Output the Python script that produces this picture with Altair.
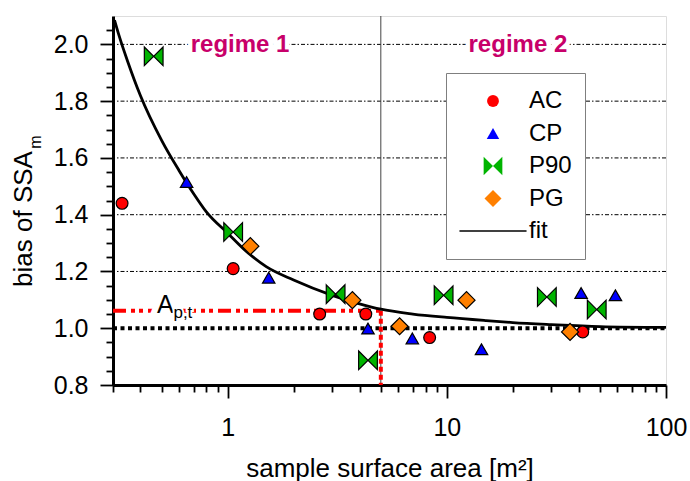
import altair as alt
import pandas as pd

FONT = "Liberation Sans"

# ---------------- data ----------------
ac_x = [0.33, 1.06, 2.63, 4.27, 8.35, 41.7]
ac_y = [1.44, 1.21, 1.05, 1.05, 0.967, 0.987]
cp_x = [0.65, 1.54, 4.37, 6.96, 14.4, 41.0, 58.8]
cp_y = [1.515, 1.178, 0.999, 0.964, 0.926, 1.124, 1.116]
p90_x = [0.46, 1.06, 3.11, 4.37, 9.67, 28.6, 48.3]
p90_y = [1.958, 1.339, 1.12, 0.887, 1.116, 1.11, 1.066]
pg_x = [1.27, 3.71, 6.09, 12.3, 36.5]
pg_y = [1.289, 1.099, 1.007, 1.099, 0.987]

fit_x = [0.305, 0.32, 0.35, 0.4, 0.5, 0.6, 0.7, 0.8, 1.0, 1.2, 1.5, 2, 3, 4, 5, 7, 10, 15, 20, 30, 50, 100]
fit_y = [2.085, 2.03, 1.94, 1.82, 1.662, 1.556, 1.474, 1.41, 1.335, 1.275, 1.217, 1.17, 1.116, 1.086, 1.067, 1.05, 1.038, 1.027, 1.02, 1.013, 1.006, 1.003]

grid_y = [1.2, 1.4, 1.6, 1.8, 2.0]
x_major = [1, 10, 100]
x_minor = [0.3, 0.4, 0.5, 0.6, 0.7, 0.8, 0.9, 2, 3, 4, 5, 6, 7, 8, 9,
           20, 30, 40, 50, 60, 70, 80, 90]
y_major = [0.8, 1.0, 1.2, 1.4, 1.6, 1.8, 2.0]
y_minor = [0.85, 0.9, 0.95, 1.05, 1.1, 1.15, 1.25, 1.3, 1.35, 1.45, 1.5, 1.55,
           1.65, 1.7, 1.75, 1.85, 1.9, 1.95, 2.05]

regime_boundary = 5.0
apt_x = 5.0
apt_y = 1.062
ref_y = 1.0
x_min, x_max = 0.3, 100
y_min, y_max = 0.8, 2.1

reg_x = [1.14, 21.1]
reg_y = [1.972, 1.972]
reg_text = ["regime 1", "regime 2"]

apt_label_x = [0.476]
apt_label_y = [1.053]
apt_sub_x = [0.566]
apt_sub_y = [1.035]

series = ["AC", "CP", "P90", "PG", "fit"]
fills = ["#FF0000", "#0000FF", "#00B400", "#FF8000", "#000000"]
BOWTIE = "M-1,-1L1,1L1,-1L-1,1Z"
FITBAR = "M-1,-0.025L1,-0.025L1,0.025L-1,0.025Z"
shapes = ["circle", "triangle-up", BOWTIE, "diamond", FITBAR]
sizes = [140, 155, 350, 290, 4500]
sws = [1.2, 1.2, 1.2, 1.2, 0.6]

# ---------------- tables ----------------
rows = []
for name, xs, ys in [("AC", ac_x, ac_y), ("CP", cp_x, cp_y),
                     ("P90", p90_x, p90_y), ("PG", pg_x, pg_y)]:
    for xv, yv in zip(xs, ys):
        rows.append({"series": name, "x": xv, "y": yv})
pts = pd.DataFrame(rows)
fit = pd.DataFrame({"x": fit_x, "y": fit_y})

X = alt.Scale(type="log", domain=[x_min, x_max], nice=False)
Y = alt.Scale(domain=[y_min, y_max], nice=False, zero=False)

# ---------------- axes ----------------
major_x_axis = alt.Axis(values=x_major, format="~g", orient="bottom",
                        tickSize=13, tickWidth=1.8, tickColor="black",
                        domainColor="black", domainWidth=3,
                        labelFontSize=25, labelFont=FONT, labelColor="black",
                        labelPadding=17, labelBaseline="top", labelFlush=False,
                        labelOverlap=False, grid=False,
                        title="sample surface area [m²]", titleFontSize=26,
                        titleFont=FONT, titleFontWeight="normal", titleColor="black",
                        titleBaseline="alphabetic", titleY=91)
minor_x_axis = alt.Axis(values=x_minor, orient="bottom", tickSize=7, tickWidth=1.8,
                        tickColor="black", labels=False, domain=False, grid=False,
                        title=None)
major_y_axis = alt.Axis(values=y_major, format=".1f", orient="left",
                        tickSize=13, tickWidth=1.8, tickColor="black",
                        domainColor="black", domainWidth=3,
                        labelFontSize=25, labelFont=FONT, labelColor="black",
                        labelPadding=12, labelFlush=False, labelOverlap=False,
                        grid=False, title=None)
minor_y_axis = alt.Axis(values=y_minor, orient="left", tickSize=7, tickWidth=1.8,
                        tickColor="black", labels=False, domain=False, grid=False,
                        title=None)

# ---------------- layers ----------------
grid = alt.Chart(pd.DataFrame({"y": grid_y})).mark_rule(
    color="black", strokeWidth=1, strokeDash=[4, 2, 1.5, 2]
).encode(y=alt.Y("y:Q", scale=Y, axis=None))

vline = alt.Chart(pd.DataFrame({"x": [regime_boundary]})).mark_rule(
    color="#444444", strokeWidth=1
).encode(x=alt.X("x:Q", scale=X, axis=None))

ref = alt.Chart(pd.DataFrame({"x": [x_min], "x2": [x_max], "y": [ref_y]})).mark_rule(
    color="black", strokeWidth=4, strokeDash=[4, 3.5]
).encode(x=alt.X("x:Q", scale=X, axis=minor_x_axis), x2="x2:Q",
         y=alt.Y("y:Q", scale=Y, axis=minor_y_axis))

red_h = alt.Chart(pd.DataFrame({"x": [x_min], "x2": [apt_x], "y": [apt_y]})).mark_rule(
    color="#FF0000", strokeWidth=4, strokeDash=[13, 5, 4, 4, 4, 5]
).encode(x=alt.X("x:Q", scale=X, axis=None), x2="x2:Q",
         y=alt.Y("y:Q", scale=Y, axis=None))

red_v = alt.Chart(pd.DataFrame({"x": [apt_x], "y": [apt_y], "y2": [y_min]})).mark_rule(
    color="#FF0000", strokeWidth=4, strokeDash=[5, 3]
).encode(x=alt.X("x:Q", scale=X, axis=None),
         y=alt.Y("y:Q", scale=Y, axis=None), y2="y2:Q")

fit_line = alt.Chart(fit).mark_line(color="black", strokeWidth=2.8, interpolate="monotone").encode(
    x=alt.X("x:Q", scale=X, axis=None), y=alt.Y("y:Q", scale=Y, axis=None))

legend = alt.Legend(orient="none", legendX=333, legendY=57, title=None,
                    labelFontSize=24, labelFont=FONT, labelColor="black",
                    labelOffset=2, padding=13, rowPadding=2.5, clipHeight=30,
                    strokeColor="#7f7f7f", fillColor="white",
                    symbolStrokeColor="black", symbolOpacity=1)

points = alt.Chart(pts).mark_point(filled=True, opacity=1, stroke="black").encode(
    x=alt.X("x:Q", scale=X, axis=major_x_axis),
    y=alt.Y("y:Q", scale=Y, axis=major_y_axis),
    fill=alt.Fill("series:N", scale=alt.Scale(domain=series, range=fills), legend=legend),
    shape=alt.Shape("series:N", scale=alt.Scale(domain=series, range=shapes), legend=legend),
    size=alt.Size("series:N", scale=alt.Scale(type="ordinal", domain=series, range=sizes), legend=legend),
    strokeWidth=alt.StrokeWidth("series:N", scale=alt.Scale(type="ordinal", domain=series, range=sws), legend=legend),
)

reg_df = pd.DataFrame({"x": reg_x, "y": reg_y, "t": reg_text})
reg_halo = alt.Chart(reg_df).mark_text(
    fontSize=24, font=FONT, fontWeight="bold", align="center", baseline="alphabetic",
    fill="white", stroke="white", strokeWidth=9
).encode(x=alt.X("x:Q", scale=X, axis=None), y=alt.Y("y:Q", scale=Y, axis=None), text="t:N")
reg_txt = alt.Chart(reg_df).mark_text(
    fontSize=24, font=FONT, fontWeight="bold", align="center", baseline="alphabetic",
    color="#C8006A"
).encode(x=alt.X("x:Q", scale=X, axis=None), y=alt.Y("y:Q", scale=Y, axis=None), text="t:N")

a_df = pd.DataFrame({"x": apt_label_x, "y": apt_label_y, "t": ["A"]})
s_df = pd.DataFrame({"x": apt_sub_x, "y": apt_sub_y, "t": ["p,t"]})
a_halo = alt.Chart(a_df).mark_text(fontSize=25, font=FONT, align="left", baseline="alphabetic",
                                   fill="white", stroke="white", strokeWidth=12).encode(
    x=alt.X("x:Q", scale=X, axis=None), y=alt.Y("y:Q", scale=Y, axis=None), text="t:N")
a_txt = alt.Chart(a_df).mark_text(fontSize=25, font=FONT, align="left", baseline="alphabetic",
                                  color="black").encode(
    x=alt.X("x:Q", scale=X, axis=None), y=alt.Y("y:Q", scale=Y, axis=None), text="t:N")
s_halo = alt.Chart(s_df).mark_text(fontSize=17, font=FONT, align="left", baseline="alphabetic",
                                   fill="white", stroke="white", strokeWidth=4).encode(
    x=alt.X("x:Q", scale=X, axis=None), y=alt.Y("y:Q", scale=Y, axis=None), text="t:N")
s_txt = alt.Chart(s_df).mark_text(fontSize=17, font=FONT, align="left", baseline="alphabetic",
                                  color="black").encode(
    x=alt.X("x:Q", scale=X, axis=None), y=alt.Y("y:Q", scale=Y, axis=None), text="t:N")

ytitle = alt.Chart(pd.DataFrame({"t": ["bias of SSA"]})).mark_text(
    angle=270, fontSize=26, font=FONT, align="center", baseline="alphabetic", color="black"
).encode(x=alt.value(-81), y=alt.value(203), text="t:N")
ytitle_sub = alt.Chart(pd.DataFrame({"t": ["m"]})).mark_text(
    angle=270, fontSize=16, font=FONT, align="center", baseline="alphabetic", color="black"
).encode(x=alt.value(-72.5), y=alt.value(126), text="t:N")

chart = alt.layer(
    grid, vline, ref, red_h, red_v, fit_line, points,
    reg_halo, reg_txt, a_halo, a_txt, s_halo, s_txt, ytitle, ytitle_sub
).resolve_axis(x="independent", y="independent").properties(
    width=553, height=369, autosize="none",
    padding={"left": 113, "top": 16, "right": 24, "bottom": 96}
).configure_view(stroke="black", strokeWidth=2.5).configure(font=FONT)

chart.save("out.html", embed_options={"renderer": "svg", "actions": False})
